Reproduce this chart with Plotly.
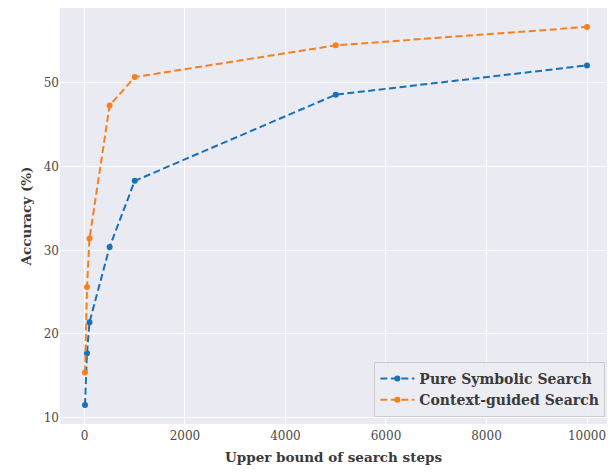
import plotly.graph_objects as go

steps = [10, 50, 100, 500, 1000, 5000, 10000]
pure_symbolic = [11.5, 17.7, 21.4, 30.4, 38.3, 48.6, 52.1]
context_guided = [15.4, 25.6, 31.4, 47.3, 50.7, 54.5, 56.7]
series_names = ["Pure Symbolic Search", "Context-guided Search"]
colors = ["#1771b7", "#f5801f"]
x_ticks = [0, 2000, 4000, 6000, 8000, 10000]
y_ticks = [10, 20, 30, 40, 50]

FONT = "DejaVu Serif"
TXT = "#3a3a3a"

fig = go.Figure()
for name, vals, col in zip(series_names, [pure_symbolic, context_guided], colors):
    fig.add_trace(go.Scatter(
        x=steps, y=vals, name=name, mode="lines+markers",
        line=dict(color=col, width=2, dash="7px,3.5px"),
        marker=dict(color=col, size=6),
    ))

# page body has an 8px default margin; figure is sized to fit the visible area
fig.update_layout(
    width=599, height=464,
    margin=dict(l=52, r=0, t=0, b=48),
    paper_bgcolor="white", plot_bgcolor="#eaeaf2",
    font=dict(family=FONT, size=12, color=TXT),
    showlegend=True,
    legend=dict(
        x=0.997, y=0.017, xanchor="right", yanchor="bottom",
        bgcolor="rgba(236,236,243,0.9)", bordercolor="#cccccc", borderwidth=1,
        font=dict(family=FONT, size=14, color=TXT, weight="bold"),
        tracegroupgap=2, itemwidth=34,
    ),
    xaxis=dict(
        range=[-487, 10398], tickvals=x_ticks, ticktext=[str(v) for v in x_ticks],
        showgrid=True, gridcolor="white", gridwidth=1, zeroline=False,
        showline=False, ticks="", tickfont=dict(size=12, color="#4a4a4a"),
        ticklabelstandoff=3,
        title=dict(text="Upper bound of search steps", standoff=10,
                   font=dict(family=FONT, size=13.5, weight="bold", color=TXT)),
    ),
    yaxis=dict(
        range=[9.24, 58.96], tickvals=y_ticks, ticktext=[str(v) for v in y_ticks],
        showgrid=True, gridcolor="white", gridwidth=1, zeroline=False,
        showline=False, ticks="", tickfont=dict(size=12, color="#4a4a4a"),
        title=dict(text="Accuracy (%)", standoff=8,
                   font=dict(family=FONT, size=13.5, weight="bold", color=TXT)),
    ),
)

fig.write_html("out.html")
